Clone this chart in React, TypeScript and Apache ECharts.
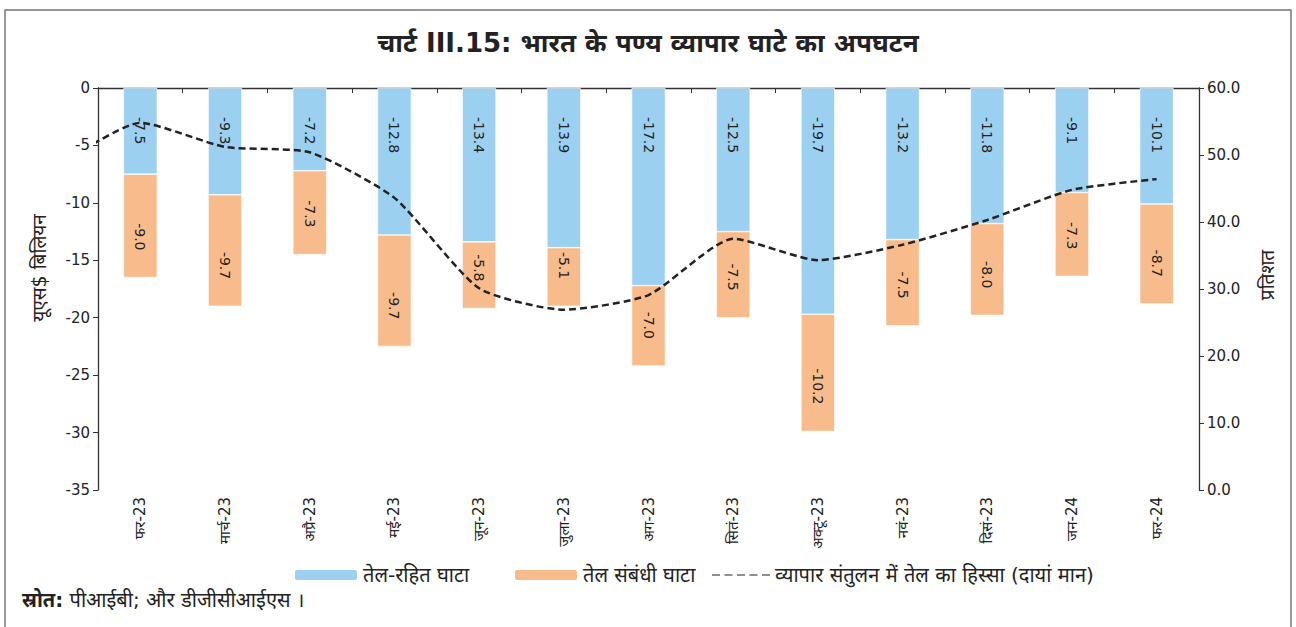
import React, { useEffect, useRef } from "react";
import * as echarts from "echarts";

const months = ["फर-23", "मार्च-23", "अप्रै-23", "मई-23", "जून-23", "जुला-23", "अग-23", "सितं-23", "अक्टू-23", "नवं-23", "दिसं-23", "जन-24", "फर-24"];
const nonOilDeficit = [-7.5, -9.3, -7.2, -12.8, -13.4, -13.9, -17.2, -12.5, -19.7, -13.2, -11.8, -9.1, -10.1];
const oilDeficit = [-9.0, -9.7, -7.3, -9.7, -5.8, -5.1, -7.0, -7.5, -10.2, -7.5, -8.0, -7.3, -8.7];
// share of oil in trade balance (right axis), preceded by the previous month (jan-23) that enters from the left edge
const priorShare = 48.2;
const oilShare = [54.8, 51.2, 50.4, 43.6, 30.1, 26.9, 29.1, 37.5, 34.3, 36.6, 40.3, 44.8, 46.4];
const leftTicks = { min: -35, max: 0, interval: 5 };
const rightTicks = { min: 0, max: 60, interval: 10 };

const names = {
  nonOil: "तेल-रहित घाटा",
  oil: "तेल संबंधी घाटा",
  share: "व्यापार संतुलन में तेल का हिस्सा (दायां मान)",
};

const FONT = "'DejaVu Sans', 'Noto Sans', sans-serif";
const DASH_ICON = "path://M0,0h8v1h-8z M12.5,0h8v1h-8z M25,0h8v1h-8z M37.5,0h8v1h-8z M50,0h8v1h-8z";

export default function App() {
  const ref = useRef<HTMLDivElement>(null);
  useEffect(() => {
    if (!ref.current) return;
    const chart = echarts.init(ref.current, null, { renderer: "svg" });
    const lineData = [[-1, priorShare], ...oilShare.map((v, i) => [i, v])];
    const legendText = { fontSize: 20, color: "#222", fontFamily: FONT };
    chart.setOption({
      animation: false,
      backgroundColor: "#fff",
      textStyle: { fontFamily: FONT },
      title: {
        text: "चार्ट III.15: भारत के पण्य व्यापार घाटे का अपघटन",
        left: "center",
        top: 25,
        textStyle: { fontSize: 26, fontWeight: "bold", color: "#222", fontFamily: FONT },
      },
      grid: { left: 98, right: 97, top: 88, bottom: 137, containLabel: false },
      legend: [
        {
          data: [names.nonOil],
          left: 288,
          top: 560,
          itemWidth: 64,
          itemHeight: 12,
          textStyle: legendText,
        },
        {
          data: [names.oil],
          left: 508,
          top: 560,
          itemWidth: 64,
          itemHeight: 12,
          textStyle: legendText,
        },
        {
          data: [{ name: names.share, icon: DASH_ICON, itemStyle: { color: "#222" } }],
          left: 707,
          top: 560,
          itemWidth: 58,
          itemHeight: 2.5,
          textStyle: legendText,
        },
      ],
      xAxis: [
        {
          type: "category",
          data: months,
          position: "bottom",
          axisLine: { show: false },
          axisTick: { show: false },
          axisLabel: { rotate: 90, margin: 7, fontSize: 15, color: "#222", interval: 0 },
        },
        {
          type: "category",
          data: months,
          position: "top",
          axisLine: { show: true, onZero: false, lineStyle: { color: "#333", width: 1.3 } },
          axisTick: { show: true, inside: true, length: 5, lineStyle: { color: "#333" } },
          axisLabel: { show: false },
        },
        {
          type: "value",
          min: -0.5,
          max: 12.5,
          show: false,
        },
      ],
      yAxis: [
        {
          type: "value",
          min: leftTicks.min,
          max: leftTicks.max,
          interval: leftTicks.interval,
          name: "यूएस$ बिलियन",
          nameLocation: "middle",
          nameGap: 50,
          nameRotate: 90,
          nameTextStyle: { fontSize: 19, color: "#222", padding: [0, 0, 0, 42] },
          axisLine: { show: true, onZero: false, lineStyle: { color: "#333", width: 1.3 } },
          axisTick: { show: true, length: 5, lineStyle: { color: "#333" } },
          axisLabel: { fontSize: 15, color: "#222", margin: 8 },
          splitLine: { show: false },
        },
        {
          type: "value",
          position: "right",
          min: rightTicks.min,
          max: rightTicks.max,
          interval: rightTicks.interval,
          name: "प्रतिशत",
          nameLocation: "middle",
          nameGap: 58,
          nameRotate: 90,
          nameTextStyle: { fontSize: 19, color: "#222", padding: [0, 0, 0, 28] },
          axisLine: { show: true, onZero: false, lineStyle: { color: "#333", width: 1.3 } },
          axisTick: { show: true, length: 5, lineStyle: { color: "#333" } },
          axisLabel: { fontSize: 15, color: "#222", margin: 8, formatter: (v: number) => v.toFixed(1) },
          splitLine: { show: false },
        },
      ],
      series: [
        {
          name: names.nonOil,
          type: "bar",
          stack: "deficit",
          data: nonOilDeficit,
          barCategoryGap: "60%",
          itemStyle: { color: "#9BD0F0", borderColor: "#fff", borderWidth: 0.6 },
          label: {
            show: true,
            position: "insideTop",
            distance: 29,
            rotate: -90,
            align: "left",
            verticalAlign: "middle",
            fontSize: 14,
            color: "#222",
            formatter: (p: any) => Number(p.value).toFixed(1),
          },
        },
        {
          name: names.oil,
          type: "bar",
          stack: "deficit",
          data: oilDeficit,
          barCategoryGap: "60%",
          itemStyle: { color: "#F8BC8C", borderColor: "#fff", borderWidth: 0.6 },
          label: {
            show: true,
            position: "insideBottom",
            distance: 27,
            rotate: -90,
            align: "right",
            verticalAlign: "middle",
            fontSize: 14,
            color: "#222",
            formatter: (p: any) => Number(p.value).toFixed(1),
          },
        },
        {
          name: names.share,
          type: "line",
          xAxisIndex: 2,
          yAxisIndex: 1,
          data: lineData,
          symbol: "none",
          smooth: 0.2,
          clip: true,
          lineStyle: { color: "#222", width: 2.5, type: [7, 4] },
          itemStyle: { color: "#222" },
          z: 5,
        },
      ],
      graphic: [
        {
          type: "rect",
          shape: { x: 5, y: 10, width: 1286, height: 640 },
          style: { fill: "none", stroke: "#777", lineWidth: 1.5 },
          silent: true,
        },
        {
          type: "text",
          left: 22,
          top: 590,
          style: {
            text: "{b|स्रोत:} पीआईबी; और डीजीसीआईएस ।",
            font: `20px ${FONT}`,
            fill: "#222",
            rich: {
              b: { fontWeight: "bold", fontSize: 20, fontFamily: FONT, fill: "#222" },
            },
          },
        },
      ],
    });
    return () => chart.dispose();
  }, []);
  return <div ref={ref} style={{ position: "fixed", left: 0, top: 0, width: 1296, height: 627 }} />;
}
